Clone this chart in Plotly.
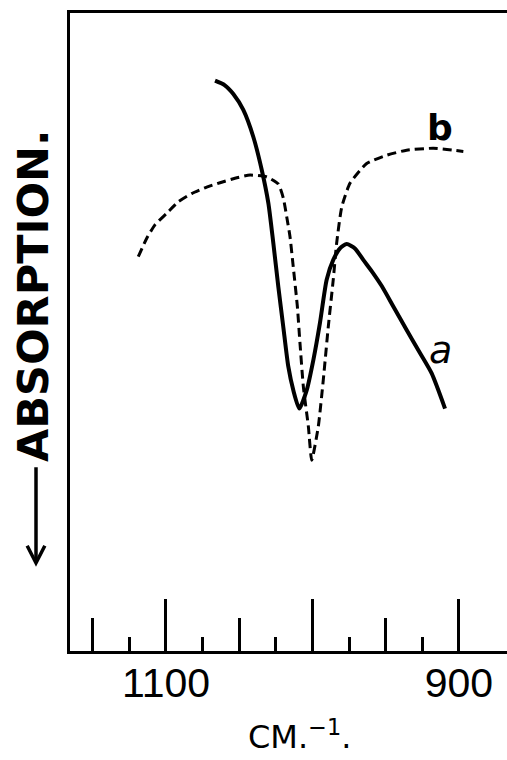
import plotly.graph_objects as go

# Curve a (solid): wavenumber (cm^-1) and relative transmission (arbitrary units, 0-100)
a_wavenumber = [1066.5, 1060.0, 1054.0, 1047.2, 1040.4, 1034.6, 1030.1, 1026.7, 1023.3, 1019.9,
                1016.5, 1013.1, 1009.0, 1003.9, 999.4, 994.9, 990.3, 985.8, 981.2, 976.6,
                971.0, 965.3, 958.5, 952.7, 944.8, 935.7, 926.6, 918.6, 909.5]
a_value = [89.4, 88.7, 87.3, 84.8, 80.6, 75.4, 70.2, 63.9, 57.1, 50.8,
           44.6, 40.9, 38.0, 40.9, 45.6, 51.4, 58.2, 61.3, 63.1, 63.8,
           63.1, 61.3, 59.2, 57.2, 54.0, 50.3, 46.7, 43.5, 38.0]

# Curve b (dashed)
b_wavenumber = [1118.9, 1113.1, 1107.5, 1099.5, 1091.6, 1082.4, 1072.2, 1063.1, 1052.9,
                1042.6, 1031.2, 1023.3, 1019.9, 1017.6, 1015.3, 1013.1, 1010.3, 1008.5,
                1006.2, 1002.8, 1000.5, 996.0, 992.6, 989.2, 985.8, 983.5, 980.0, 974.4,
                963.0, 949.3, 935.7, 917.5, 897.0]
b_value = [61.8, 64.7, 66.8, 68.6, 70.4, 71.7, 72.7, 73.4, 74.1,
           74.6, 74.3, 73.2, 71.0, 68.1, 64.9, 60.2, 54.0, 48.2,
           41.4, 35.2, 29.9, 35.2, 42.5, 50.8, 58.2, 63.9, 69.6, 73.3,
           76.4, 77.7, 78.5, 78.8, 78.3]

# Axis ticks
long_ticks = [1100, 1000, 900]
label_ticks = [1100, 900]
label_text = ["1100", "900"]
medium_ticks = [1150, 1050, 950]
short_ticks = [1125, 1075, 1025, 975, 925]

x_range = [1165.5, 867.2]
y_range = [0, 100]

fig = go.Figure()
fig.add_trace(go.Scatter(x=a_wavenumber, y=a_value, mode="lines",
                         line=dict(color="black", width=4, shape="spline", smoothing=0.6),
                         showlegend=False))
fig.add_trace(go.Scatter(x=b_wavenumber, y=b_value, mode="lines",
                         line=dict(color="black", width=3, dash="9px,5px",
                                   shape="spline", smoothing=0.5),
                         showlegend=False))
# invisible traces to activate the extra x-axes (medium ticks, tick labels)
fig.add_trace(go.Scatter(x=[x_range[0]], y=[y_range[0]], xaxis="x2", mode="markers",
                         marker=dict(opacity=0), showlegend=False, hoverinfo="skip"))
fig.add_trace(go.Scatter(x=[x_range[0]], y=[y_range[0]], xaxis="x3", mode="markers",
                         marker=dict(opacity=0), showlegend=False, hoverinfo="skip"))

fig.update_layout(
    width=507, height=760,
    margin=dict(l=70, r=0, t=13, b=109),
    plot_bgcolor="white", paper_bgcolor="white",
    font=dict(family="Liberation Sans", color="black"),
    xaxis=dict(range=x_range, showgrid=False, zeroline=False, automargin=False,
               showline=True, linecolor="black", linewidth=3, mirror=True,
               tickmode="array", tickvals=long_ticks, showticklabels=False,
               ticks="inside", ticklen=52, tickwidth=3, tickcolor="black",
               minor=dict(tickmode="array", tickvals=short_ticks, ticks="inside",
                          ticklen=14, tickwidth=3, tickcolor="black", showgrid=False)),
    xaxis2=dict(range=x_range, overlaying="x", side="bottom", anchor="y",
                showgrid=False, zeroline=False, showline=False, automargin=False,
                tickmode="array", tickvals=medium_ticks, showticklabels=False,
                ticks="inside", ticklen=33, tickwidth=3, tickcolor="black"),
    xaxis3=dict(range=x_range, overlaying="x", side="bottom", anchor="y",
                showgrid=False, zeroline=False, showline=False, automargin=False,
                tickmode="array", tickvals=label_ticks, ticktext=label_text,
                ticks="", tickfont=dict(size=41, family="Liberation Sans"),
                ticklabelstandoff=4),
    yaxis=dict(range=y_range, showgrid=False, zeroline=False, automargin=False,
               showline=True, linecolor="black", linewidth=3,
               showticklabels=False, ticks=""),
)

# curve labels
fig.add_annotation(x=912.9, y=47.2, text="a", showarrow=False,
                   font=dict(size=38, family="DejaVu Sans", style="italic"))
fig.add_annotation(x=912.9, y=82.1, text="<b>b</b>", showarrow=False,
                   font=dict(size=36, family="DejaVu Sans"))

# axis titles
fig.add_annotation(xref="paper", yref="paper", x=0.525, y=-0.132,
                   text="CM.<sup>−1</sup>.", showarrow=False,
                   font=dict(size=32, family="DejaVu Sans"), yanchor="middle")
fig.add_annotation(xref="paper", yref="paper", x=-0.083, y=0.556,
                   text="<b>ABSORPTION.</b>", textangle=-90, showarrow=False,
                   font=dict(size=43, family="DejaVu Sans"),
                   xanchor="center", yanchor="middle")

# downward arrow of the absorption label (shaft and chevron head)
fig.add_shape(type="line", xref="paper", yref="paper",
              x0=-0.0778, x1=-0.0778, y0=0.288, y1=0.14,
              line=dict(color="black", width=3.5))
fig.add_shape(type="path", xref="paper", yref="paper",
              path="M -0.098,0.165 L -0.0778,0.138 L -0.0576,0.165",
              line=dict(color="black", width=3.5))

fig.write_html("out.html",
               config={"displayModeBar": False},
               post_script="document.body.style.margin='0';"
                           "document.body.style.overflow='hidden';")
